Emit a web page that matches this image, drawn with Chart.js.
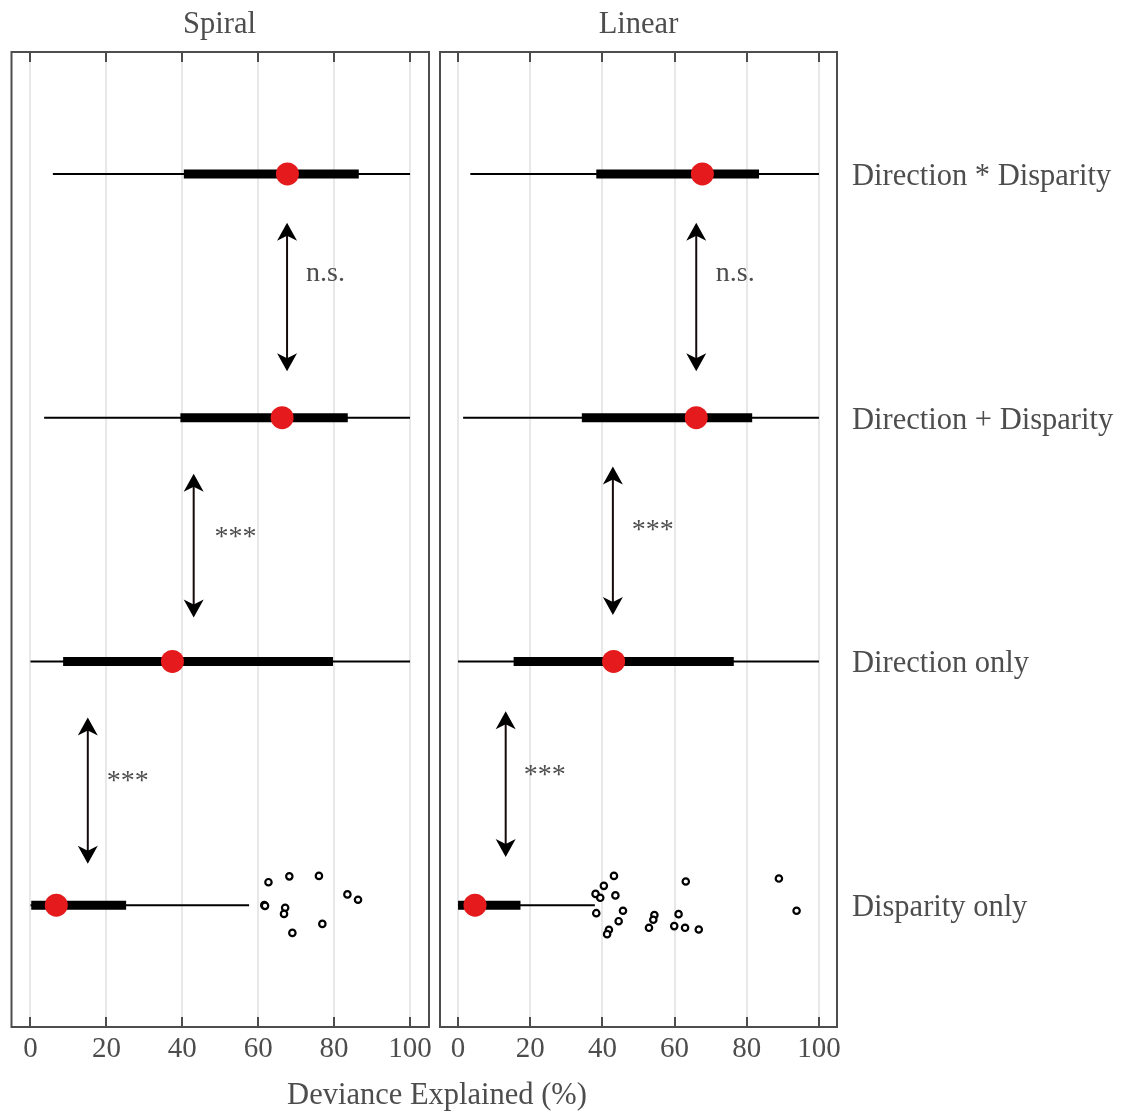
<!DOCTYPE html>
<html>
<head>
    <title>Deviance Explained</title>
    <script src="https://cdn.jsdelivr.net/npm/chart.js@4.4.0/dist/chart.umd.min.js"></script>
    <style>
        body {
            margin: 0;
            padding: 0;
            background-color: white;
            font-family: 'Liberation Serif', serif;
            color: #4d4d4d;
        }
        .wrap {
            position: relative;
            width: 1127px;
            height: 1111px;
        }
        canvas {
            position: absolute;
            top: 0;
            left: 0;
        }
        .txt {
            position: absolute;
            font-size: 30.5px;
            line-height: 36px;
            text-align: center;
            white-space: nowrap;
        }
    </style>
</head>
<body>
<div class="wrap">
    <canvas id="spiralChart" width="1127" height="1111"></canvas>
    <canvas id="linearChart" width="1127" height="1111"></canvas>
    <div class="txt" style="left:10px; width:419px; top:5px;">Spiral</div>
    <div class="txt" style="left:440px; width:397px; top:5px;">Linear</div>
    <div class="txt" style="left:237px; width:400px; top:1076px;">Deviance Explained (%)</div>
</div>
<script>
    // rows, top to bottom
    const rowLabels = ['Direction * Disparity', 'Direction + Disparity', 'Direction only', 'Disparity only'];
    const rowPos = [4, 3, 2, 1];
    const xTicks = [0, 20, 40, 60, 80, 100];

    // Spiral panel
    const spiralWhiskerLo = [5.9, 3.6, 0, 0];
    const spiralWhiskerHi = [100, 100, 100, 57.6];
    const spiralBoxLo = [40.4, 39.5, 8.6, 0.2];
    const spiralBoxHi = [86.5, 83.6, 79.7, 25.2];
    const spiralCentre = [67.7, 66.3, 37.4, 6.8];
    const spiralOutX = [62.7, 68.2, 76.0, 61.6, 61.8, 67.1, 66.8, 69.0, 76.9, 83.5, 86.3];
    const spiralOutY = [1.094, 1.118, 1.120, 1.0, 0.997, 0.989, 0.964, 0.886, 0.923, 1.044, 1.022];
    const spiralArrowX = [67.6, 43.0, 15.1];
    const spiralArrowFrom = [3.80, 2.77, 1.77];
    const spiralArrowTo = [3.19, 2.18, 1.17];
    const spiralLabelX = [72.6, 48.5, 20.1];
    const spiralLabelY = [3.56, 2.476, 1.476];

    // Linear panel
    const linearWhiskerLo = [3.4, 1.4, 0, 0];
    const linearWhiskerHi = [100, 100, 100, 37.9];
    const linearBoxLo = [38.3, 34.3, 15.4, 0];
    const linearBoxHi = [83.4, 81.5, 76.4, 17.3];
    const linearCentre = [67.7, 66.0, 43.1, 4.7];
    const linearOutX = [43.2, 40.4, 38.1, 39.4, 43.6, 38.3, 45.7, 44.5, 41.8, 41.3, 54.4, 54.1, 52.9, 63.1, 61.1, 59.9, 62.9, 66.7, 88.9, 93.8];
    const linearOutY = [1.120, 1.079, 1.046, 1.030, 1.040, 0.967, 0.977, 0.934, 0.899, 0.881, 0.959, 0.940, 0.907, 1.097, 0.963, 0.914, 0.907, 0.900, 1.109, 0.977];
    const linearArrowX = [66.0, 42.9, 13.2];
    const linearArrowFrom = [3.80, 2.80, 1.795];
    const linearArrowTo = [3.19, 2.19, 1.197];
    const linearLabelX = [71.4, 48.1, 18.2];
    const linearLabelY = [3.56, 2.506, 1.503];

    const sigLabels = ['n.s.', '***', '***'];

    const textColor = '#4d4d4d';
    const serif = "'Liberation Serif', serif";

    function drawArrowHead(ctx, x, yTip, dir) {
        // dir = 1 points up, -1 points down
        ctx.beginPath();
        ctx.moveTo(x, yTip);
        ctx.lineTo(x - 10, yTip + dir * 18);
        ctx.lineTo(x, yTip + dir * 13);
        ctx.lineTo(x + 10, yTip + dir * 18);
        ctx.closePath();
        ctx.fill();
    }

    function decorPlugin(p, showRowLabels) {
        return {
            id: 'decor',
            afterDatasetsDraw(chart) {
                const ctx = chart.ctx;
                const xs = chart.scales.x, ys = chart.scales.y;
                ctx.save();
                // significance arrows
                ctx.strokeStyle = '#140a0a';
                ctx.lineWidth = 2;
                for (let i = 0; i < p.arrowX.length; i++) {
                    const x = xs.getPixelForValue(p.arrowX[i]);
                    const y1 = ys.getPixelForValue(p.arrowFrom[i]);
                    const y2 = ys.getPixelForValue(p.arrowTo[i]);
                    ctx.beginPath();
                    ctx.moveTo(x, y1 + 12);
                    ctx.lineTo(x, y2 - 12);
                    ctx.stroke();
                    ctx.fillStyle = '#000';
                    drawArrowHead(ctx, x, y1, 1);
                    drawArrowHead(ctx, x, y2, -1);
                    ctx.fillStyle = textColor;
                    ctx.font = '28px ' + serif;
                    ctx.textAlign = 'left';
                    ctx.textBaseline = 'alphabetic';
                    ctx.fillText(sigLabels[i], xs.getPixelForValue(p.labelX[i]), ys.getPixelForValue(p.labelY[i]));
                }
                ctx.restore();
            },
            afterDraw(chart) {
                const ctx = chart.ctx;
                const a = chart.chartArea;
                const xs = chart.scales.x, ys = chart.scales.y;
                ctx.save();
                ctx.strokeStyle = '#4d4d4d';
                ctx.lineWidth = 2;
                ctx.strokeRect(a.left, a.top, a.right - a.left, a.bottom - a.top);
                // inward ticks top and bottom
                ctx.beginPath();
                xTicks.forEach(v => {
                    const x = Math.round(xs.getPixelForValue(v));
                    ctx.moveTo(x, a.top); ctx.lineTo(x, a.top + 10);
                    ctx.moveTo(x, a.bottom); ctx.lineTo(x, a.bottom - 10);
                });
                ctx.stroke();
                if (showRowLabels) {
                    ctx.fillStyle = textColor;
                    ctx.font = '30.5px ' + serif;
                    ctx.textAlign = 'left';
                    ctx.textBaseline = 'middle';
                    rowLabels.forEach((t, i) => {
                        ctx.fillText(t, a.right + 15, ys.getPixelForValue(rowPos[i]) + 3);
                    });
                }
                ctx.restore();
            }
        };
    }

    function makePanel(id, p, padLeft, padRight, showRowLabels) {
        const datasets = [];
        datasets.push({
            data: p.centre.map((v, i) => ({x: v, y: rowPos[i]})),
            pointRadius: 11.5,
            backgroundColor: '#e41a1c',
            borderWidth: 0
        });
        rowPos.forEach((r, i) => {
            datasets.push({
                data: [{x: p.boxLo[i], y: r}, {x: p.boxHi[i], y: r}],
                showLine: true,
                borderColor: '#000',
                borderWidth: 9,
                borderCapStyle: 'butt',
                pointRadius: 0
            });
            datasets.push({
                data: [{x: p.whiskerLo[i], y: r}, {x: p.whiskerHi[i], y: r}],
                showLine: true,
                borderColor: '#000',
                borderWidth: 2,
                borderCapStyle: 'butt',
                pointRadius: 0
            });
        });
        datasets.push({
            data: p.outX.map((v, i) => ({x: v, y: p.outY[i]})),
            pointRadius: 3.2,
            backgroundColor: '#fff',
            borderColor: '#000',
            borderWidth: 2.2
        });

        return new Chart(document.getElementById(id), {
            type: 'scatter',
            data: {datasets: datasets},
            options: {
                responsive: false,
                animation: false,
                layout: {padding: {left: padLeft, right: padRight, top: 52, bottom: 0}},
                plugins: {legend: {display: false}, tooltip: {enabled: false}},
                scales: {
                    x: {
                        type: 'linear',
                        min: -5,
                        max: 105,
                        afterBuildTicks: s => { s.ticks = xTicks.map(v => ({value: v})); },
                        afterFit: s => { s.height = 84; },
                        grid: {color: '#e8e8e8', lineWidth: 2, drawTicks: false},
                        border: {display: false},
                        ticks: {
                            color: textColor,
                            font: {family: serif, size: 29},
                            padding: 5,
                            maxRotation: 0
                        }
                    },
                    y: {type: 'linear', min: 0.5, max: 4.5, display: false}
                }
            },
            plugins: [decorPlugin(p, showRowLabels)]
        });
    }

    makePanel('spiralChart', {
        whiskerLo: spiralWhiskerLo, whiskerHi: spiralWhiskerHi,
        boxLo: spiralBoxLo, boxHi: spiralBoxHi, centre: spiralCentre,
        outX: spiralOutX, outY: spiralOutY,
        arrowX: spiralArrowX, arrowFrom: spiralArrowFrom, arrowTo: spiralArrowTo,
        labelX: spiralLabelX, labelY: spiralLabelY
    }, 10, 1127 - 429, false);

    makePanel('linearChart', {
        whiskerLo: linearWhiskerLo, whiskerHi: linearWhiskerHi,
        boxLo: linearBoxLo, boxHi: linearBoxHi, centre: linearCentre,
        outX: linearOutX, outY: linearOutY,
        arrowX: linearArrowX, arrowFrom: linearArrowFrom, arrowTo: linearArrowTo,
        labelX: linearLabelX, labelY: linearLabelY
    }, 440, 1127 - 837, true);
</script>
</body>
</html>
